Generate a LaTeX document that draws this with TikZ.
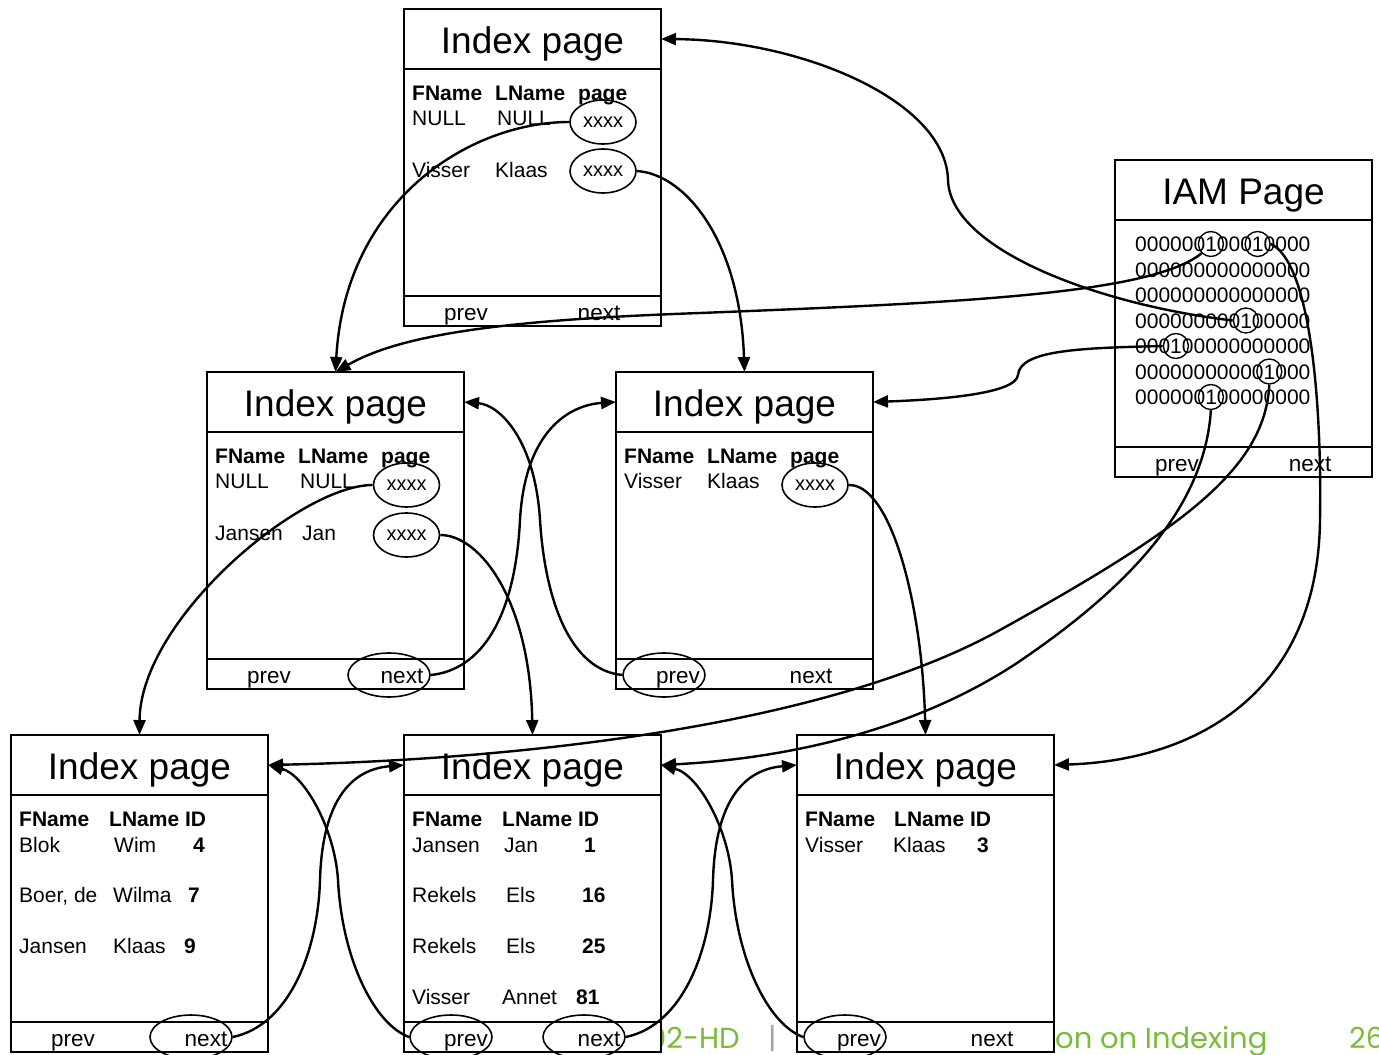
\documentclass[tikz,border=0pt]{standalone}
\usepackage{fontspec}
\setmainfont{Liberation Sans}
\newfontfamily\gfont{Poppins}
\usetikzlibrary{calc,shapes.geometric,arrows.meta}
\definecolor{slidegreen}{RGB}{122,188,58}
\definecolor{bargray}{RGB}{165,165,165}
\newcommand\titlef{\fontsize{37}{40}\selectfont}
\newcommand\bodyf{\fontsize{21}{25}\selectfont}
\newcommand\footf{\fontsize{22.5}{26}\selectfont}
\newcommand\xf{\fontsize{20}{22}\selectfont}
\newcounter{tn}
\tikzset{
 pagefr/.style={draw, line width=2pt, fill=white, minimum width=257pt, minimum height=317pt, inner sep=0pt, outer sep=0pt, anchor=north west},
 titlebox/.style={minimum width=257pt, minimum height=60pt, inner sep=0pt, outer sep=0pt, anchor=north west, text height=30pt, text depth=2pt, font=\titlef},
 boxline/.style={line width=2pt},
 txt/.style={anchor=base west, inner sep=0pt, font=\bodyf},
 ftxt/.style={anchor=base, inner sep=0pt, font=\footf},
 ptr/.style={draw, ellipse, line width=1.6pt, minimum width=66pt, minimum height=44pt, inner sep=0pt, font=\xf},
 fptr/.style={draw, ellipse, line width=1.6pt, minimum width=82pt, minimum height=44pt, inner sep=0pt},
 bit/.style={draw, circle, line width=1.4pt, minimum size=25pt, inner sep=0pt},
 conn/.style={line width=2.4pt, -{Triangle[length=15pt,width=12pt]}},
 slidetext/.style={anchor=base west, inner sep=0pt, font=\gfont\fontsize{29}{32}\selectfont, text=slidegreen},
}
\newcommand\tx[4][]{\stepcounter{tn}\node[txt,#1] (tx\arabic{tn}) at ($(#2.north west)+(#3)$) {#4};}
\newcommand\pagebox[4]{%
  \node[pagefr] (#1) at (#2,#3) {};
  \node[titlebox] (#1-t) at (#2,#3) {#4};
  \draw[boxline] (#1-t.south west) -- (#1-t.south east);
  \draw[boxline] ([yshift=30pt]#1.south west) -- ([yshift=30pt]#1.south east);
  \node[ftxt] (#1-fp) at ($(#1.south west)+(62,-6)$) {prev};
  \node[ftxt] (#1-fn) at ($(#1.south west)+(195,-6)$) {next};
}
\newcommand\headpage[1]{%
  \tx{#1}{8,91}{\bfseries FName}
  \tx{#1}{91,91}{\bfseries LName}
  \tx{#1}{174,91}{\bfseries page}
}
\begin{document}
\begin{tikzpicture}[x=1pt,y=-1pt]
\useasboundingbox (0,0) rectangle (1379,1055);
% slide footer behind the pages
\node[slidetext] (ft1) at (648,1048) {02-HD};
\node[slidetext, text=bargray] (ft2) at (768,1048) {|};
\node[slidetext] (ft3) at (1055,1048) {on on Indexing};
\node[slidetext] (ft4) at (1349,1048) {26};

% ---- top index page
\pagebox{TP}{404}{9}{Index page}
\headpage{TP}
\tx{TP}{8,116}{NULL}
\tx{TP}{93,116}{NULL}
\tx{TP}{8,168}{Visser}
\tx{TP}{91,168}{Klaas}
\node[ptr] (TP-e1) at ($(TP.north west)+(199,113)$) {xxxx};
\node[ptr] (TP-e2) at ($(TP.north west)+(199,162)$) {xxxx};

% ---- IAM page
\pagebox{IAM}{1115}{160}{IAM Page}
\tx{IAM}{20,91.5}{000000100010000}
\tx{IAM}{20,117}{000000000000000}
\tx{IAM}{20,142.5}{000000000000000}
\tx{IAM}{20,168}{000000000100000}
\tx{IAM}{20,193.5}{000100000000000}
\tx{IAM}{20,219}{000000000001000}
\tx{IAM}{20,244.5}{000000100000000}
\node[bit] (IAM-c1) at ($(IAM.north west)+(95.9,84)$) {};
\node[bit] (IAM-c1b) at ($(IAM.north west)+(142.6,84)$) {};
\node[bit] (IAM-c4) at ($(IAM.north west)+(130.9,160.5)$) {};
\node[bit] (IAM-c5) at ($(IAM.north west)+(60.9,186)$) {};
\node[bit] (IAM-c6) at ($(IAM.north west)+(154.3,211.5)$) {};
\node[bit] (IAM-c7) at ($(IAM.north west)+(95.9,237)$) {};

% ---- middle left
\pagebox{ML}{207}{372}{Index page}
\headpage{ML}
\tx{ML}{8,116}{NULL}
\tx{ML}{93,116}{NULL}
\tx{ML}{8,168}{Jansen}
\tx{ML}{95,168}{Jan}
\node[ptr] (ML-e1) at ($(ML.north west)+(199.5,113)$) {xxxx};
\node[ptr] (ML-e2) at ($(ML.north west)+(199.5,163)$) {xxxx};
\node[fptr] (ML-next) at ($(ML.south west)+(182,-14)$) {};

% ---- middle right
\pagebox{MR}{616}{372}{Index page}
\headpage{MR}
\tx{MR}{8,116}{Visser}
\tx{MR}{91,116}{Klaas}
\node[ptr] (MR-e1) at ($(MR.north west)+(199,113)$) {xxxx};
\node[fptr] (MR-prev) at ($(MR.south west)+(48,-14)$) {};

% ---- bottom left
\pagebox{BL}{11}{735}{Index page}
\tx{BL}{8,91}{\bfseries FName}
\tx{BL}{98,91}{\bfseries LName ID}
\tx{BL}{8,117}{Blok}
\tx{BL}{103,117}{Wim}
\tx{BL}{182,117}{\bfseries 4}
\tx{BL}{8,167}{Boer, de}
\tx{BL}{102,167}{Wilma}
\tx{BL}{177,167}{\bfseries 7}
\tx{BL}{8,218}{Jansen}
\tx{BL}{102,218}{Klaas}
\tx{BL}{173,218}{\bfseries 9}
\node[fptr] (BL-next) at ($(BL.south west)+(180,-15)$) {};

% ---- bottom middle
\pagebox{BM}{404}{735}{Index page}
\tx{BM}{8,91}{\bfseries FName}
\tx{BM}{98,91}{\bfseries LName ID}
\tx{BM}{8,117}{Jansen}
\tx{BM}{100,117}{Jan}
\tx{BM}{180,117}{\bfseries 1}
\tx{BM}{8,167}{Rekels}
\tx{BM}{102,167}{Els}
\tx{BM}{178,167}{\bfseries 16}
\tx{BM}{8,218}{Rekels}
\tx{BM}{102,218}{Els}
\tx{BM}{178,218}{\bfseries 25}
\tx{BM}{8,269}{Visser}
\tx{BM}{98,269}{Annet}
\tx{BM}{172,269}{\bfseries 81}
\node[fptr] (BM-prev) at ($(BM.south west)+(47,-15)$) {};
\node[fptr] (BM-next) at ($(BM.south west)+(180,-15)$) {};

% ---- bottom right
\pagebox{BR}{797}{735}{Index page}
\tx{BR}{8,91}{\bfseries FName}
\tx{BR}{97,91}{\bfseries LName ID}
\tx{BR}{8,117}{Visser}
\tx{BR}{96,117}{Klaas}
\tx{BR}{180,117}{\bfseries 3}
\node[fptr] (BR-prev) at ($(BR.south west)+(48,-15)$) {};

% ---- connectors: index pointers
\draw[conn] (TP-e1.west) .. controls (470,122) and (345,200) .. (ML.north);
\draw[conn] (TP-e2.east) .. controls (685,174) and (740,240) .. (MR.north);
\draw[conn] (ML-e1.west) .. controls (300,485) and (140,620) .. (BL.north);
\draw[conn] (ML-e2.east) .. controls (480,535) and (530,600) .. (BM.north);
\draw[conn] (MR-e1.east) .. controls (890,484) and (922,600) .. (BR.north);

% ---- connectors: prev / next chains
\draw[conn] (ML-next.east) .. controls (480,670) and (515,620) .. (520,520) .. controls (525,430) and (570,405) .. (MR-t.west);
\draw[conn] (MR-prev.west) .. controls (570,670) and (545,600) .. (540,520) .. controls (535,440) and (500,405) .. (ML-t.east);
\draw[conn] (BL-next.east) .. controls (290,1025) and (318,950) .. (320,880) .. controls (322,810) and (345,770) .. (BM-t.west);
\draw[conn] (BM-prev.west) .. controls (375,1025) and (342,960) .. (338,880) .. controls (335,830) and (305,775) .. (BL-t.east);
\draw[conn] (BM-next.east) .. controls (683,1025) and (711,950) .. (713,880) .. controls (715,810) and (738,770) .. (BR-t.west);
\draw[conn] (BR-prev.west) .. controls (769,1025) and (736,960) .. (732,880) .. controls (729,830) and (699,775) .. (BM-t.east);

% ---- connectors: IAM bits
\draw[conn] (IAM-c4.west) .. controls (1100,305) and (950,250) .. (948,180) .. controls (946,100) and (800,40) .. (TP-t.east);
\draw[conn] (IAM-c1.south west) .. controls (1150,295) and (950,303) .. (700,313) .. controls (500,320) and (400,335) .. (ML.north);
\draw[conn] (IAM-c1b.east) .. controls (1310,262) and (1322,400) .. (1320,520) .. controls (1318,690) and (1200,760) .. (BR-t.east);
\draw[conn] (IAM-c5.west) .. controls (1080,348) and (1020,350) .. (1018,375) .. controls (1016,395) and (930,400) .. (MR-t.east);
\draw[conn] (IAM-c6.south) .. controls (1265,470) and (1180,530) .. (1000,630) .. controls (820,730) and (500,760) .. (BL-t.east);
\draw[conn] (IAM-c7.south) .. controls (1205,500) and (1140,580) .. (1017,663) .. controls (900,740) and (760,760) .. (BM-t.east);
\end{tikzpicture}
\end{document}
